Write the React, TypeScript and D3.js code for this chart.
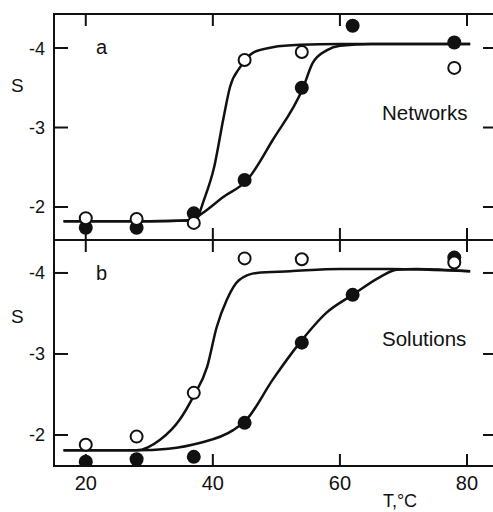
import React, { useEffect, useRef } from "react";
import * as d3 from "d3";

// measured points, temperature in degC
const tempsFilled = [20, 28, 37, 45, 54, 62, 78];
const tempsOpen = [20, 28, 37, 45, 54, 78];

const netFilled = [-1.74, -1.74, -1.92, -2.34, -3.5, -4.28, -4.07];
const netOpen = [-1.86, -1.85, -1.8, -3.85, -3.95, -3.75];
const solFilled = [-1.67, -1.7, -1.73, -2.15, -3.14, -3.73, -4.19];
const solOpen = [-1.88, -1.98, -2.52, -4.18, -4.17, -4.13];

// drawn curves
const netOpenCurveT = [16.5, 30, 36, 37.5, 38.6, 40.2, 41.7, 42.7, 44.3, 46.3, 49.4, 53.7, 60, 80.5];
const netOpenCurveS = [-1.82, -1.82, -1.83, -1.87, -2.09, -2.5, -3.13, -3.51, -3.76, -3.94, -4.01, -4.04, -4.05, -4.05];
const netFilledCurveT = [16.5, 30, 36, 37.5, 41.7, 45.4, 49.4, 54.2, 55.7, 57.9, 60, 65, 80.5];
const netFilledCurveS = [-1.82, -1.82, -1.83, -1.88, -2.13, -2.34, -2.84, -3.5, -3.81, -3.97, -4.03, -4.05, -4.05];
const solOpenCurveT = [16.5, 28, 31.7, 34.8, 36.9, 39.1, 40.6, 42.2, 44.1, 46.9, 52.1, 60, 67.9, 80.5];
const solOpenCurveS = [-1.81, -1.81, -1.94, -2.19, -2.47, -2.84, -3.33, -3.67, -3.91, -4.0, -4.02, -4.05, -4.05, -4.02];
const solFilledCurveT = [16.5, 28, 33, 37.9, 43.2, 45.3, 49.4, 53.7, 57.9, 62, 66.3, 68.9, 72, 80.5];
const solFilledCurveS = [-1.81, -1.81, -1.83, -1.9, -2.06, -2.19, -2.68, -3.14, -3.51, -3.73, -3.95, -4.04, -4.05, -4.02];

const xTicks = [20, 40, 60, 80];
const yTicks = [-4, -3, -2];

const FONT = "'Liberation Sans', Arial, sans-serif";

const App = () => {
  const svgRef = useRef<SVGSVGElement>(null);

  useEffect(() => {
    const width = 493;
    const height = 512;
    const left = 54;
    const right = 494;

    const svg = d3.select(svgRef.current);
    svg.selectAll("*").remove();
    svg.attr("width", width).attr("height", height);

    const x = d3.scaleLinear().domain([15, 84.25]).range([left, right]);

    const panels = [
      {
        id: "a",
        label: "Networks",
        top: 14,
        bottom: 240,
        y: d3.scaleLinear().domain([-4.428, -1.585]).range([14, 240]),
        filled: netFilled,
        open: netOpen,
        curves: [
          [netOpenCurveT, netOpenCurveS],
          [netFilledCurveT, netFilledCurveS],
        ],
      },
      {
        id: "b",
        label: "Solutions",
        top: 240,
        bottom: 466,
        y: d3.scaleLinear().domain([-4.407, -1.617]).range([240, 466]),
        filled: solFilled,
        open: solOpen,
        curves: [
          [solOpenCurveT, solOpenCurveS],
          [solFilledCurveT, solFilledCurveS],
        ],
      },
    ];

    const line = d3
      .line<[number, number]>()
      .curve(d3.curveMonotoneX);

    panels.forEach((p, i) => {
      const g = svg.append("g");
      const y = p.y;

      // clip so markers touching the frame get cut
      const clipId = `clip-${p.id}`;
      svg
        .append("clipPath")
        .attr("id", clipId)
        .append("rect")
        .attr("x", left)
        .attr("y", p.top)
        .attr("width", right - left)
        .attr("height", p.bottom - p.top);

      // frame
      g.append("rect")
        .attr("x", left)
        .attr("y", p.top)
        .attr("width", right - left)
        .attr("height", p.bottom - p.top)
        .attr("fill", "none")
        .attr("stroke", "#111")
        .attr("stroke-width", 2);

      // x ticks (inward, top and bottom)
      xTicks.forEach((t) => {
        g.append("line")
          .attr("x1", x(t)).attr("x2", x(t))
          .attr("y1", p.top).attr("y2", p.top + 12)
          .attr("stroke", "#111").attr("stroke-width", 2);
        g.append("line")
          .attr("x1", x(t)).attr("x2", x(t))
          .attr("y1", p.bottom).attr("y2", p.bottom - 12)
          .attr("stroke", "#111").attr("stroke-width", 2);
      });

      // y ticks, left and right
      yTicks.forEach((t) => {
        g.append("line")
          .attr("x1", left).attr("x2", left + 14)
          .attr("y1", y(t)).attr("y2", y(t))
          .attr("stroke", "#111").attr("stroke-width", 2);
        g.append("line")
          .attr("x1", right).attr("x2", right - 11)
          .attr("y1", y(t)).attr("y2", y(t))
          .attr("stroke", "#111").attr("stroke-width", 2);
        g.append("text")
          .attr("x", 45)
          .attr("y", y(t))
          .attr("dy", "0.36em")
          .attr("text-anchor", "end")
          .style("font-family", FONT)
          .style("font-size", "18px")
          .attr("fill", "#111")
          .text(String(t));
      });

      // axis label S
      g.append("text")
        .attr("x", 11)
        .attr("y", i === 0 ? 92 : 323)
        .style("font-family", FONT)
        .style("font-size", "19px")
        .attr("fill", "#111")
        .text("S");

      // panel letter
      g.append("text")
        .attr("x", 96)
        .attr("y", i === 0 ? 54 : 280)
        .style("font-family", FONT)
        .style("font-size", "20px")
        .attr("fill", "#111")
        .text(p.id);

      // panel name
      g.append("text")
        .attr("x", 382)
        .attr("y", i === 0 ? 120 : 346)
        .style("font-family", FONT)
        .style("font-size", "20.5px")
        .attr("fill", "#111")
        .text(p.label);

      // curves
      p.curves.forEach(([ts, ss]) => {
        const pts = ts.map((t, k) => [x(t), y(ss[k])] as [number, number]);
        g.append("path")
          .attr("d", line(pts))
          .attr("fill", "none")
          .attr("stroke", "#111")
          .attr("stroke-width", 2.5);
      });

      const marks = g.append("g").attr("clip-path", `url(#${clipId})`);

      // filled points
      marks
        .selectAll("circle.filled")
        .data(p.filled)
        .enter()
        .append("circle")
        .attr("class", "filled")
        .attr("cx", (d, k) => x(tempsFilled[k]))
        .attr("cy", (d) => y(d))
        .attr("r", 7)
        .attr("fill", "#111");

      // open points
      marks
        .selectAll("circle.open")
        .data(p.open)
        .enter()
        .append("circle")
        .attr("class", "open")
        .attr("cx", (d, k) => x(tempsOpen[k]))
        .attr("cy", (d) => y(d))
        .attr("r", 6)
        .attr("fill", "#fff")
        .attr("stroke", "#111")
        .attr("stroke-width", 2);
    });

    // x tick labels
    xTicks.forEach((t) => {
      svg
        .append("text")
        .attr("x", x(t))
        .attr("y", 490)
        .attr("text-anchor", "middle")
        .style("font-family", FONT)
        .style("font-size", "20px")
        .attr("fill", "#111")
        .text(t);
    });

    svg
      .append("text")
      .attr("x", 400)
      .attr("y", 507)
      .attr("text-anchor", "middle")
      .style("font-family", FONT)
      .style("font-size", "18px")
      .attr("fill", "#111")
      .text("T,\u00b0C");
  }, []);

  return (
    <svg
      ref={svgRef}
      style={{ position: "absolute", left: 0, top: 0, background: "#fff" }}
    ></svg>
  );
};

export default App;
